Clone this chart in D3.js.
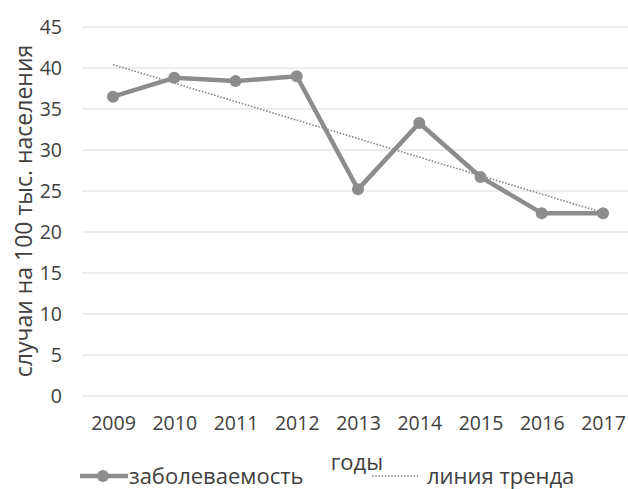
<!DOCTYPE html>
<html>
<head>
<meta charset="utf-8">
<script src="https://cdn.jsdelivr.net/npm/d3@7"></script>
<style>
  body { margin: 0; background: #fff; }
  text { font-family: "Open Sans", sans-serif; fill: #404040; }
</style>
</head>
<body>
<svg id="chart" width="628" height="489"></svg>
<script>
// data
var years = ['2009', '2010', '2011', '2012', '2013', '2014', '2015', '2016', '2017'];
var incidence = [36.5, 38.8, 38.4, 39.0, 25.2, 33.3, 26.7, 22.3, 22.3];
var yTicks = [0, 5, 10, 15, 20, 25, 30, 35, 40, 45];

var svg = d3.select('#chart');

var x = d3.scalePoint()
    .domain(years)
    .range([113, 603]);

var y = d3.scaleLinear()
    .domain([0, 45])
    .range([396, 27]);

//gridlines
svg.append('g')
    .selectAll('line')
    .data(yTicks)
    .join('line')
    .attr('x1', 82)
    .attr('x2', 628)
    .attr('y1', function(d) { return y(d); })
    .attr('y2', function(d) { return y(d); })
    .attr('stroke', '#d9d9d9')
    .attr('stroke-width', 1.2);

//y axis labels
var yAxis = d3.axisLeft(y).tickValues(yTicks).tickSize(0).tickPadding(0);
svg.append('g')
    .attr('transform', 'translate(62,0)')
    .call(yAxis)
    .call(function(g) {
        g.select('.domain').remove();
        g.selectAll('text')
            .style('font-size', '19.5px')
            .attr('dy', '0.35em');
    });

//x axis labels
var xAxis = d3.axisBottom(x).tickSize(0).tickPadding(0);
svg.append('g')
    .attr('transform', 'translate(0,415)')
    .call(xAxis)
    .call(function(g) {
        g.select('.domain').remove();
        g.selectAll('text')
            .style('font-size', '19.5px')
            .attr('dy', '0.75em');
    });

//linear trend from the values
var xs = d3.range(years.length);
var mx = d3.mean(xs), my = d3.mean(incidence);
var slope = d3.sum(xs, function(i) { return (i - mx) * (incidence[i] - my); }) /
    d3.sum(xs, function(i) { return (i - mx) * (i - mx); });
var icpt = my - slope * mx;

svg.append('line')
    .attr('x1', x(years[0]))
    .attr('y1', y(icpt))
    .attr('x2', x(years[years.length - 1]))
    .attr('y2', y(icpt + slope * (years.length - 1)))
    .attr('stroke', '#8a8a8a')
    .attr('stroke-width', 1.6)
    .attr('stroke-dasharray', '1.6,1.6');

//series line
var line = d3.line()
    .x(function(d, i) { return x(years[i]); })
    .y(function(d) { return y(d); });

svg.append('path')
    .datum(incidence)
    .attr('d', line)
    .attr('fill', 'none')
    .attr('stroke', '#8c8c8c')
    .attr('stroke-width', 4.5)
    .attr('stroke-linejoin', 'round');

svg.append('g')
    .selectAll('circle')
    .data(incidence)
    .join('circle')
    .attr('cx', function(d, i) { return x(years[i]); })
    .attr('cy', function(d) { return y(d); })
    .attr('r', 6)
    .attr('fill', '#8c8c8c');

//axis titles
svg.append('text')
    .attr('transform', 'translate(24,211) rotate(-90)')
    .attr('text-anchor', 'middle')
    .attr('dy', '0.35em')
    .style('font-size', '23px')
    .text('случаи на 100 тыс. населения');

svg.append('text')
    .attr('x', 357)
    .attr('y', 462)
    .attr('text-anchor', 'middle')
    .attr('dy', '0.35em')
    .style('font-size', '22px')
    .text('годы');

//legend
var legend = svg.append('g').attr('transform', 'translate(0,476)');

legend.append('line')
    .attr('x1', 80).attr('x2', 128)
    .attr('y1', 0).attr('y2', 0)
    .attr('stroke', '#8c8c8c')
    .attr('stroke-width', 4.5);

legend.append('circle')
    .attr('cx', 103).attr('cy', 0).attr('r', 6)
    .attr('fill', '#8c8c8c');

legend.append('text')
    .attr('x', 129).attr('y', 0)
    .attr('dy', '0.35em')
    .style('font-size', '22px')
    .text('заболеваемость');

legend.append('line')
    .attr('x1', 372).attr('x2', 418)
    .attr('y1', 0).attr('y2', 0)
    .attr('stroke', '#8a8a8a')
    .attr('stroke-width', 1.6)
    .attr('stroke-dasharray', '1.6,1.6');

legend.append('text')
    .attr('x', 427).attr('y', 0)
    .attr('dy', '0.35em')
    .style('font-size', '22px')
    .text('линия тренда');
</script>
</body>
</html>
